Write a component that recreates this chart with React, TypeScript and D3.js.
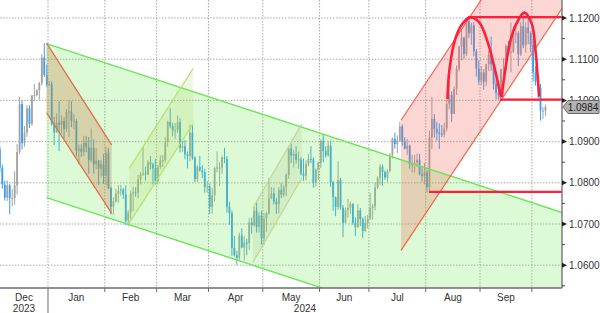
import React from 'react';
import * as d3 from 'd3';

type Bar = [number, number, number, number]; // open, high, low, close
type Pt = [number, number]; // trading-day index, price

// ---- EUR/USD daily bars ----
const dec2023: Bar[] = [
  [1.0884, 1.0896, 1.0829, 1.0882], [1.0882, 1.089, 1.0826, 1.0836], [1.0836, 1.0844, 1.0786, 1.0796],
  [1.0796, 1.0805, 1.0757, 1.0764], [1.0764, 1.0806, 1.0756, 1.0794], [1.0794, 1.0798, 1.0723, 1.0763],
  [1.0763, 1.0784, 1.0743, 1.0763], [1.0763, 1.0828, 1.0747, 1.0794], [1.0794, 1.0894, 1.0772, 1.0875],
  [1.0875, 1.1009, 1.0869, 1.0991], [1.0991, 1.0999, 1.0881, 1.0896], [1.0896, 1.0938, 1.0888, 1.0922],
  [1.0922, 1.0988, 1.0912, 1.0981], [1.0981, 1.0988, 1.0933, 1.0943], [1.0943, 1.1013, 1.0938, 1.1012],
  [1.1012, 1.104, 1.0998, 1.1013], [1.1013, 1.1027, 1.101, 1.1025], [1.1025, 1.1045, 1.1002, 1.1042],
  [1.1042, 1.1112, 1.1036, 1.1104], [1.1104, 1.1139, 1.1057, 1.1062], [1.1062, 1.1087, 1.1033, 1.1039],
];
const jan2024: Bar[] = [
  [1.1039, 1.1047, 1.1035, 1.104], [1.104, 1.1046, 1.0939, 1.0942], [1.0942, 1.096, 1.0892, 1.0922],
  [1.0922, 1.0969, 1.0921, 1.0946], [1.0946, 1.0998, 1.0877, 1.0941], [1.0941, 1.0964, 1.092, 1.095],
  [1.095, 1.0959, 1.0907, 1.093], [1.093, 1.0979, 1.0924, 1.0972], [1.0972, 1.1, 1.0911, 1.0973],
  [1.0973, 1.0998, 1.0935, 1.095], [1.095, 1.0967, 1.093, 1.095], [1.095, 1.0955, 1.0864, 1.0878],
  [1.0878, 1.0893, 1.0844, 1.0883], [1.0883, 1.0893, 1.0863, 1.0875], [1.0875, 1.0914, 1.0865, 1.0897],
  [1.0897, 1.0914, 1.0874, 1.0886], [1.0886, 1.0911, 1.0822, 1.0855], [1.0855, 1.0932, 1.085, 1.0885],
  [1.0885, 1.0906, 1.0822, 1.0845], [1.0845, 1.0885, 1.0833, 1.0854], [1.0854, 1.0856, 1.0795, 1.0834],
  [1.0834, 1.0856, 1.0815, 1.0845], [1.0845, 1.087, 1.0797, 1.0817],
];
const feb2024: Bar[] = [
  [1.0817, 1.0888, 1.0794, 1.0873], [1.0873, 1.0884, 1.0785, 1.0787], [1.0787, 1.0791, 1.0723, 1.0742],
  [1.0742, 1.0765, 1.0723, 1.0755], [1.0755, 1.0785, 1.0752, 1.0773], [1.0773, 1.0794, 1.0752, 1.078],
  [1.078, 1.0795, 1.0769, 1.0784], [1.0784, 1.0787, 1.0761, 1.0772], [1.0772, 1.0794, 1.0697, 1.0708],
  [1.0708, 1.0734, 1.0695, 1.0728], [1.0728, 1.0781, 1.0712, 1.0773], [1.0773, 1.079, 1.0732, 1.0777],
  [1.0777, 1.0789, 1.0766, 1.0776], [1.0776, 1.0819, 1.0762, 1.0808], [1.0808, 1.0826, 1.0796, 1.0821],
  [1.0821, 1.0888, 1.0817, 1.0823], [1.0823, 1.0839, 1.0806, 1.082], [1.082, 1.0855, 1.0819, 1.085],
  [1.085, 1.0865, 1.0832, 1.0844], [1.0844, 1.0849, 1.0796, 1.0835], [1.0835, 1.0858, 1.0796, 1.0804],
];
const mar2024: Bar[] = [
  [1.0804, 1.0844, 1.0796, 1.0838], [1.0838, 1.0867, 1.0833, 1.0855], [1.0855, 1.0868, 1.0838, 1.0855],
  [1.0855, 1.0911, 1.0849, 1.0899], [1.0899, 1.0951, 1.0887, 1.0948], [1.0948, 1.0981, 1.0932, 1.0938],
  [1.0938, 1.0945, 1.0913, 1.0927], [1.0927, 1.0945, 1.0906, 1.0927], [1.0927, 1.0963, 1.0921, 1.0947],
  [1.0947, 1.0957, 1.0874, 1.0885], [1.0885, 1.0906, 1.0875, 1.0889], [1.0889, 1.0904, 1.0857, 1.0869],
  [1.0869, 1.0876, 1.0835, 1.0865], [1.0865, 1.0942, 1.0852, 1.0922], [1.0922, 1.0942, 1.0856, 1.0861],
  [1.0861, 1.0864, 1.0802, 1.0809], [1.0809, 1.0843, 1.0802, 1.0838], [1.0838, 1.0865, 1.0827, 1.083],
  [1.083, 1.0843, 1.0811, 1.0826], [1.0826, 1.0834, 1.0776, 1.079], [1.079, 1.0804, 1.0776, 1.0791],
];
const apr2024: Bar[] = [
  [1.0791, 1.0798, 1.0724, 1.0741], [1.0741, 1.0787, 1.0725, 1.077], [1.077, 1.0838, 1.0755, 1.0836],
  [1.0836, 1.0876, 1.0826, 1.0837], [1.0837, 1.085, 1.0792, 1.0837], [1.0837, 1.0866, 1.0822, 1.0861],
  [1.0861, 1.0885, 1.0848, 1.0858], [1.0858, 1.0865, 1.0728, 1.0742], [1.0742, 1.0754, 1.0698, 1.0726],
  [1.0726, 1.0733, 1.0623, 1.0642], [1.0642, 1.0671, 1.0621, 1.0624], [1.0624, 1.0635, 1.0601, 1.0618],
  [1.0618, 1.0679, 1.0613, 1.0672], [1.0672, 1.069, 1.0641, 1.0643], [1.0643, 1.067, 1.0611, 1.0655],
  [1.0655, 1.0664, 1.0624, 1.0654], [1.0654, 1.0715, 1.0637, 1.0704], [1.0704, 1.0716, 1.0676, 1.0697],
  [1.0697, 1.0741, 1.0694, 1.0732], [1.0732, 1.0752, 1.0679, 1.0693], [1.0693, 1.0728, 1.0679, 1.072],
  [1.072, 1.0732, 1.065, 1.0665],
];
const may2024: Bar[] = [
  [1.0665, 1.0726, 1.0649, 1.0713], [1.0713, 1.073, 1.0681, 1.0726], [1.0726, 1.0812, 1.0723, 1.0762],
  [1.0762, 1.079, 1.076, 1.0774], [1.0774, 1.0788, 1.0747, 1.0754], [1.0754, 1.0763, 1.0724, 1.0748],
  [1.0748, 1.079, 1.0726, 1.0783], [1.0783, 1.0799, 1.0763, 1.0771], [1.0771, 1.0795, 1.0765, 1.079],
  [1.079, 1.0823, 1.0768, 1.0819], [1.0819, 1.0886, 1.081, 1.0883], [1.0883, 1.0895, 1.0848, 1.0866],
  [1.0866, 1.088, 1.0837, 1.087], [1.087, 1.0889, 1.0847, 1.0856], [1.0856, 1.0876, 1.0834, 1.0857],
  [1.0857, 1.0862, 1.0818, 1.0822], [1.0822, 1.0859, 1.0805, 1.0817], [1.0817, 1.0854, 1.0806, 1.0846],
  [1.0846, 1.087, 1.084, 1.0858], [1.0858, 1.0889, 1.0848, 1.0857], [1.0857, 1.0862, 1.0788, 1.08],
  [1.08, 1.0835, 1.0791, 1.0832], [1.0832, 1.0852, 1.0807, 1.0848],
];
const jun2024: Bar[] = [
  [1.0848, 1.0905, 1.0836, 1.0902], [1.0902, 1.0916, 1.085, 1.0877], [1.0877, 1.0889, 1.0861, 1.0867],
  [1.0867, 1.0902, 1.0863, 1.089], [1.089, 1.0902, 1.079, 1.0801], [1.0801, 1.0805, 1.0732, 1.0765],
  [1.0765, 1.0767, 1.0719, 1.0741], [1.0741, 1.0852, 1.0734, 1.0807], [1.0807, 1.0812, 1.0735, 1.074],
  [1.074, 1.0746, 1.0668, 1.0703], [1.0703, 1.074, 1.0702, 1.0734], [1.0734, 1.0761, 1.0715, 1.0739],
  [1.0739, 1.0755, 1.0724, 1.0749], [1.0749, 1.075, 1.0698, 1.0703], [1.0703, 1.0716, 1.0671, 1.0693],
  [1.0693, 1.0748, 1.0691, 1.0733], [1.0733, 1.0739, 1.0695, 1.0712], [1.0712, 1.0716, 1.0666, 1.0683],
  [1.0683, 1.072, 1.068, 1.0702], [1.0702, 1.0722, 1.0689, 1.0713],
];
const jul2024: Bar[] = [
  [1.0713, 1.0776, 1.071, 1.0739], [1.0739, 1.0749, 1.071, 1.0743], [1.0743, 1.0801, 1.0733, 1.0789],
  [1.0789, 1.0816, 1.0785, 1.0811], [1.0811, 1.0845, 1.0795, 1.0839], [1.0839, 1.0844, 1.0793, 1.0826],
  [1.0826, 1.083, 1.0807, 1.0813], [1.0813, 1.0834, 1.0802, 1.0828], [1.0828, 1.0872, 1.0825, 1.0867],
  [1.0867, 1.091, 1.0859, 1.0907], [1.0907, 1.0922, 1.0883, 1.0894], [1.0894, 1.0915, 1.0872, 1.0903],
  [1.0903, 1.0948, 1.0899, 1.0937], [1.0937, 1.0942, 1.089, 1.0899], [1.0899, 1.0911, 1.0881, 1.0883],
  [1.0883, 1.0906, 1.0868, 1.089], [1.089, 1.0893, 1.0834, 1.0845], [1.0845, 1.0868, 1.0825, 1.0845],
  [1.0845, 1.0868, 1.0825, 1.0849], [1.0849, 1.0871, 1.0838, 1.0856], [1.0856, 1.087, 1.0818, 1.0821],
  [1.0821, 1.0838, 1.0803, 1.0816], [1.0816, 1.0848, 1.0796, 1.0825],
];
const aug2024: Bar[] = [
  [1.0825, 1.0832, 1.0777, 1.0789], [1.0789, 1.0927, 1.0781, 1.091], [1.091, 1.1009, 1.0882, 1.0955],
  [1.0955, 1.0967, 1.091, 1.0931], [1.0931, 1.0948, 1.0902, 1.0922], [1.0922, 1.0944, 1.0882, 1.0919],
  [1.0919, 1.094, 1.0911, 1.0918], [1.0918, 1.0946, 1.091, 1.0932], [1.0932, 1.1002, 1.0925, 1.0992],
  [1.0992, 1.1047, 1.0978, 1.1013], [1.1013, 1.1022, 1.0948, 1.0967], [1.0967, 1.1034, 1.0975, 1.1028],
  [1.1028, 1.1085, 1.1013, 1.1077], [1.1077, 1.1133, 1.107, 1.113], [1.113, 1.1174, 1.1097, 1.1152],
  [1.1152, 1.1155, 1.1101, 1.1113], [1.1113, 1.1201, 1.1107, 1.1192], [1.1192, 1.1202, 1.1151, 1.1163],
  [1.1163, 1.1189, 1.1135, 1.1182], [1.1182, 1.119, 1.1107, 1.1119], [1.1119, 1.1125, 1.1058, 1.1077],
  [1.1077, 1.1097, 1.1038, 1.1048],
];
const sep2024: Bar[] = [
  [1.1048, 1.1083, 1.1037, 1.1068], [1.1068, 1.1076, 1.1026, 1.1045], [1.1045, 1.1089, 1.1035, 1.1088],
  [1.1088, 1.1121, 1.1071, 1.1112], [1.1112, 1.1155, 1.1072, 1.1087], [1.1087, 1.1092, 1.1026, 1.104],
  [1.104, 1.1053, 1.1002, 1.1018], [1.1018, 1.1047, 1.1002, 1.1013], [1.1013, 1.1077, 1.0999, 1.1075],
  [1.1075, 1.1102, 1.1062, 1.1076], [1.1076, 1.1136, 1.107, 1.1132], [1.1132, 1.1145, 1.111, 1.1116],
  [1.1116, 1.1189, 1.1068, 1.1118], [1.1118, 1.118, 1.1115, 1.1162], [1.1162, 1.118, 1.1139, 1.1163],
  [1.1163, 1.1168, 1.1083, 1.1112], [1.1112, 1.119, 1.1108, 1.118], [1.118, 1.1214, 1.1127, 1.1134],
  [1.1134, 1.119, 1.1116, 1.1177], [1.1177, 1.12, 1.1137, 1.1164], [1.1164, 1.1168, 1.1117, 1.1135],
];
const oct2024: Bar[] = [
  [1.1135, 1.115, 1.1046, 1.1068], [1.1068, 1.1083, 1.1036, 1.1046], [1.1046, 1.1059, 1.1006, 1.1031],
  [1.1031, 1.104, 1.0951, 1.0975], [1.0975, 1.0984, 1.0955, 1.0975], [1.0975, 1.099, 1.0962, 1.0984],
];

const monthBars: Bar[][] = [dec2023, jan2024, feb2024, mar2024, apr2024, may2024, jun2024, jul2024, aug2024, sep2024, oct2024];
const monthYM: [number, number][] = [[2023, 11], [2024, 0], [2024, 1], [2024, 2], [2024, 3], [2024, 4], [2024, 5], [2024, 6], [2024, 7], [2024, 8], [2024, 9]];
const monthLabels = ['Dec', 'Jan', 'Feb', 'Mar', 'Apr', 'May', 'Jun', 'Jul', 'Aug', 'Sep'];
const yearLabels = ['2023', '2024'];

const yMajorTicks = [1.06, 1.07, 1.08, 1.09, 1.1, 1.11, 1.12];
const yMinorTicks = [1.055, 1.065, 1.075, 1.085, 1.095, 1.105, 1.115];
const lastPrice = 1.0984;

// ---- Annotations (trading-day index, price) ----
const greenChannelUpper: Pt[] = [[19.9, 1.1138], [228.7, 1.0728]];
const greenChannelLower: Pt[] = [[19.9, 1.0764], [228.7, 1.0354]];
const janChannelUpper: Pt[] = [[19.9, 1.1139], [46.3, 1.0892]];
const janChannelLower: Pt[] = [[19.9, 1.097], [46.3, 1.0726]];
const febChannelUpper: Pt[] = [[53.4, 1.0835], [79.35, 1.1078]];
const febChannelLower: Pt[] = [[53.4, 1.0702], [79.35, 1.0944]];
const aprChannelUpper: Pt[] = [[103.5, 1.0739], [123.3, 1.0943]];
const aprChannelLower: Pt[] = [[103.5, 1.0607], [123.3, 1.0811]];
const redChannelUpper: Pt[] = [[163.5, 1.0952], [228.7, 1.1538]];
const redChannelLower: Pt[] = [[163.5, 1.0636], [228.7, 1.1223]];
const topLine: Pt[] = [[190.6, 1.1202], [228.7, 1.1202]];
const necklineLine: Pt[] = [[203.6, 1.1002], [228.7, 1.1002]];
const supportLine: Pt[] = [[174.8, 1.0778], [228.7, 1.0778]];
const arcOne: Pt[] = [
  [182.3, 1.1003], [183.1, 1.1074], [185.35, 1.1147], [188.2, 1.1185], [191.4, 1.1201],
  [195.1, 1.119], [198.3, 1.1147], [201.1, 1.1086], [204.0, 1.1008],
];
const arcTwo: Pt[] = [
  [204.26, 1.1008], [205.9, 1.1082], [207.9, 1.1147], [210.3, 1.1187], [213.4, 1.1213],
  [216.4, 1.1187], [217.96, 1.1122], [218.8, 1.1062], [219.5, 1.1009],
];

const W = 600;
const H = 313;
const PR = 562; // plot right
const PB = 288; // plot bottom
const FONT = '"Liberation Sans", Arial, sans-serif';

function weekdays(year: number, month: number): Date[] {
  const out: Date[] = [];
  const d = new Date(year, month, 1);
  while (d.getMonth() === month) {
    const wd = d.getDay();
    if (wd !== 0 && wd !== 6) out.push(new Date(d));
    d.setDate(d.getDate() + 1);
  }
  return out;
}

export default function App() {
  const x = d3.scaleLinear().domain([1.064, 228.7]).range([0, PR]);
  const y = d3.scaleLinear().domain([1.05447, 1.12437]).range([PB, 0]);

  const bars: { i: number; o: number; h: number; l: number; c: number }[] = [];
  const monthStarts: number[] = [];
  const monthEnds: number[] = [];
  let idx = 0;
  monthBars.forEach((mb, m) => {
    const days = weekdays(monthYM[m][0], monthYM[m][1]);
    monthStarts.push(idx);
    monthEnds.push(idx + days.length - 1);
    mb.forEach((b, k) => {
      bars.push({ i: idx + k, o: b[0], h: b[1], l: b[2], c: b[3] });
    });
    idx += days.length;
  });

  const line = d3.line<Pt>().x((d) => x(d[0])).y((d) => y(d[1]));
  const arcLine = d3.line<Pt>().x((d) => x(d[0])).y((d) => y(d[1])).curve(d3.curveCatmullRom.alpha(0.5));
  const poly = (a: Pt[], b: Pt[]) => {
    const pts = [...a, ...b.slice().reverse()];
    return 'M' + pts.map((p) => `${x(p[0])},${y(p[1])}`).join('L') + 'Z';
  };

  const boundaries = monthStarts.slice(1).map((s) => x(s - 0.5));
  const yearBoundary = x(monthStarts[1] - 0.5);

  const grid = '#a9a9a9';
  const axisColor = '#6b6b6b';
  const up = '#a2a2a2';
  const down = '#3b9ff0';

  const ly = y(lastPrice);

  return (
    <svg width={W} height={H} style={{ position: 'absolute', left: 0, top: 0, background: '#fff' }} fontFamily={FONT}>
      <defs>
        <clipPath id="plot">
          <rect x={0} y={0} width={PR} height={PB} />
        </clipPath>
      </defs>
      <rect x={0} y={0} width={W} height={H} fill="#fff" />
      <g clipPath="url(#plot)">
        {/* grid */}
        {yMajorTicks.map((t) => (
          <line key={'hg' + t} x1={0} x2={PR} y1={y(t)} y2={y(t)} stroke={grid} strokeWidth={1} strokeDasharray="1.5,1.5" />
        ))}
        {boundaries.map((bx, k) => (
          <line key={'vg' + k} x1={bx} x2={bx} y1={0} y2={PB} stroke={grid} strokeWidth={1} strokeDasharray="1.5,1.5" />
        ))}
        {/* candles */}
        {bars.map((b) => {
          const cx = x(b.i);
          const col = b.c >= b.o ? up : down;
          const top = y(Math.max(b.o, b.c));
          const bot = y(Math.min(b.o, b.c));
          return (
            <g key={'b' + b.i}>
              <line x1={cx} x2={cx} y1={y(b.h)} y2={y(b.l)} stroke={col} strokeWidth={1} />
              <rect x={cx - 0.9} y={top} width={1.8} height={Math.max(1, bot - top)} fill={col} />
            </g>
          );
        })}
        {/* channel fills */}
        <path d={poly(greenChannelUpper, greenChannelLower)} fill="rgba(110,235,80,0.24)" />
        <path d={poly(janChannelUpper, janChannelLower)} fill="rgba(200,110,60,0.28)" />
        <path d={poly(febChannelUpper, febChannelLower)} fill="rgba(170,205,90,0.18)" />
        <path d={poly(aprChannelUpper, aprChannelLower)} fill="rgba(160,180,110,0.16)" />
        <path d={poly(redChannelUpper, redChannelLower)} fill="rgba(245,90,80,0.25)" />
        {/* channel lines */}
        <path d={line(greenChannelUpper) || ''} fill="none" stroke="#6ae655" strokeWidth={1.4} />
        <path d={line(greenChannelLower) || ''} fill="none" stroke="#6ae655" strokeWidth={1.4} />
        <path d={line(janChannelUpper) || ''} fill="none" stroke="#e0694a" strokeWidth={1.2} />
        <path d={line(janChannelLower) || ''} fill="none" stroke="#e0694a" strokeWidth={1.2} />
        <path d={line(febChannelUpper) || ''} fill="none" stroke="#b4e36a" strokeWidth={1.2} />
        <path d={line(febChannelLower) || ''} fill="none" stroke="#b4e36a" strokeWidth={1.2} />
        <path d={line(aprChannelUpper) || ''} fill="none" stroke="#c2d49e" strokeWidth={1.2} />
        <path d={line(aprChannelLower) || ''} fill="none" stroke="#c2d49e" strokeWidth={1.2} />
        <path d={line(redChannelUpper) || ''} fill="none" stroke="#f8564e" strokeWidth={1.1} />
        <path d={line(redChannelLower) || ''} fill="none" stroke="#f0604a" strokeWidth={1.1} />
        {/* pattern lines */}
        <path d={line(topLine) || ''} fill="none" stroke="#ff1f3a" strokeWidth={2.2} />
        <path d={line(necklineLine) || ''} fill="none" stroke="#ff1f3a" strokeWidth={2.2} />
        <path d={line(supportLine) || ''} fill="none" stroke="#ff1f3a" strokeWidth={2.2} />
        <path d={arcLine(arcOne) || ''} fill="none" stroke="#ff1f3a" strokeWidth={2.6} />
        <path d={arcLine(arcTwo) || ''} fill="none" stroke="#ff1f3a" strokeWidth={2.6} />
      </g>
      {/* axes */}
      <line x1={PR} x2={PR} y1={0} y2={PB} stroke={axisColor} strokeWidth={1.3} />
      <line x1={0} x2={PR} y1={PB} y2={PB} stroke={axisColor} strokeWidth={1.3} />
      {yMinorTicks.map((t) => (
        <line key={'mt' + t} x1={PR} x2={PR + 3} y1={y(t)} y2={y(t)} stroke="#444" strokeWidth={1} />
      ))}
      {yMajorTicks.map((t) => (
        <g key={'yt' + t}>
          <path d={`M${PR},${y(t) - 2.5}L${PR + 5},${y(t)}L${PR},${y(t) + 2.5}Z`} fill="#222" />
          <text x={569} y={y(t)} dy="0.36em" fontSize={10} fill="#333">
            {d3.format('.4f')(t)}
          </text>
        </g>
      ))}
      {boundaries.map((bx, k) => (
        <line key={'xt' + k} x1={bx} x2={bx} y1={PB} y2={bx === yearBoundary ? H : PB + 4} stroke={axisColor} strokeWidth={1} />
      ))}
      {monthLabels.map((lab, m) => {
        const a = Math.max(0, x(monthStarts[m] - 0.5));
        const b = Math.min(PR, x(monthEnds[m] + 0.5));
        return (
          <text key={'ml' + lab} x={(a + b) / 2} y={301} textAnchor="middle" fontSize={10} fill="#333">
            {lab}
          </text>
        );
      })}
      {yearLabels.map((lab, k) => {
        const a = k === 0 ? 0 : yearBoundary;
        const b = k === 0 ? yearBoundary : PR;
        return (
          <text key={'yl' + lab} x={(a + b) / 2} y={311.5} textAnchor="middle" fontSize={10} fill="#333">
            {lab}
          </text>
        );
      })}
      {/* last price tag */}
      <path
        d={`M${PR + 1},${ly}L${PR + 6},${ly - 6.5}L${W - 1},${ly - 6.5}L${W - 1},${ly + 6.5}L${PR + 6},${ly + 6.5}Z`}
        fill="#b3b3b3"
        stroke="#6a6a6a"
        strokeWidth={1}
      />
      <text x={583} y={ly} dy="0.36em" textAnchor="middle" fontSize={10} fill="#1a1a1a">
        {d3.format('.4f')(lastPrice)}
      </text>
    </svg>
  );
}
